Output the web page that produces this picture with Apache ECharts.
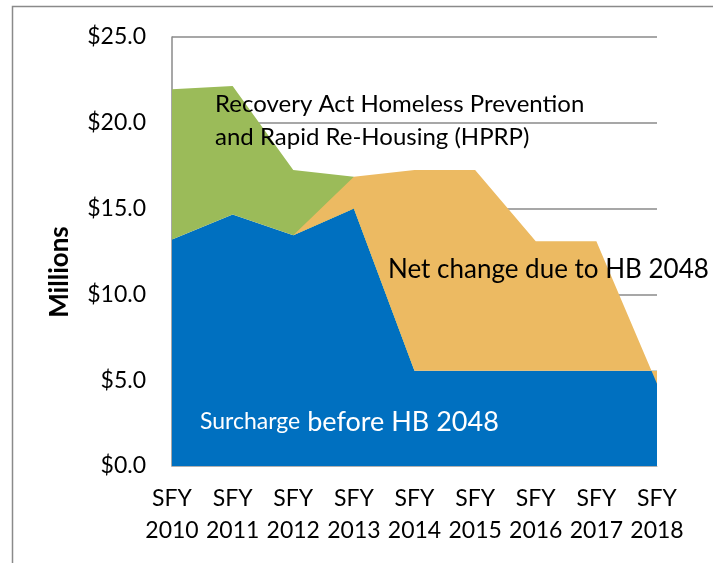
<!DOCTYPE html>
<html>
<head>
<meta charset="utf-8">
<script src="https://cdn.jsdelivr.net/npm/echarts@6/dist/echarts.min.js"></script>
<style>
html, body { margin: 0; padding: 0; background: #fff; }
#main { width: 713px; height: 563px; }
</style>
</head>
<body>
<div id="main"></div>
<script>
// values in $ millions
var categories = ['SFY 2010', 'SFY 2011', 'SFY 2012', 'SFY 2013', 'SFY 2014', 'SFY 2015', 'SFY 2016', 'SFY 2017', 'SFY 2018'];
var surcharge = [13.2, 14.65, 13.45, 15.0, 5.55, 5.55, 5.55, 5.55, 5.55];
var hprp = [8.75, 7.5, 3.8, 1.86, 0, null, null, null, null];
var netChange = [null, null, 0, 1.86, 11.7, 11.7, 7.55, 7.55, -0.75];

var FONT = 'Lato, "Noto Sans", sans-serif';
var chart = echarts.init(document.getElementById('main'));

var option = {
    animation: false,
    grid: { left: 172, right: 56, top: 37, bottom: 97 },
    xAxis: {
        type: 'category',
        boundaryGap: false,
        data: categories,
        axisLine: { lineStyle: { color: '#b0b0b0', width: 1 } },
        axisTick: { show: false },
        axisLabel: {
            interval: 0,
            margin: 17,
            color: '#000',
            fontFamily: FONT,
            fontSize: 23,
            lineHeight: 32,
            formatter: function (v) { return v.replace(' ', '\n'); }
        }
    },
    yAxis: {
        type: 'value',
        min: 0,
        max: 25,
        interval: 5,
        axisLine: { show: true, lineStyle: { color: '#8a8a8a', width: 1.5 } },
        axisTick: { show: false },
        splitLine: { lineStyle: { color: '#8a8a8a', width: 1.5 } },
        axisLabel: {
            margin: 26,
            color: '#000',
            fontFamily: FONT,
            fontSize: 23,
            formatter: function (v) { return '$' + v.toFixed(1); }
        }
    },
    series: [
        {
            name: 'Surcharge before HB 2048',
            type: 'line',
            stack: 'net',
            stackStrategy: 'all',
            data: surcharge,
            symbol: 'none',
            lineStyle: { opacity: 0 },
            areaStyle: { color: '#0070C0', opacity: 1 }
        },
        {
            // base so the HPRP band sits on top of the surcharge
            name: 'base',
            type: 'line',
            stack: 'hprp',
            data: surcharge,
            symbol: 'none',
            silent: true,
            lineStyle: { opacity: 0 }
        },
        {
            name: 'HPRP',
            type: 'line',
            stack: 'hprp',
            data: hprp,
            symbol: 'none',
            lineStyle: { opacity: 0 },
            areaStyle: { color: '#9BBB59', opacity: 1 }
        },
        {
            name: 'Net change due to HB 2048',
            type: 'line',
            stack: 'net',
            stackStrategy: 'all',
            data: netChange,
            symbol: 'none',
            lineStyle: { opacity: 0 },
            areaStyle: { color: '#ECBA62', opacity: 1 }
        }
    ],
    graphic: [
        {
            type: 'rect',
            z: 1,
            silent: true,
            shape: { x: 12.5, y: 6.5, width: 760, height: 620 },
            style: { fill: 'none', stroke: '#8a8a8a', lineWidth: 1.5 }
        },
        {
            type: 'text',
            z: 100,
            x: 60,
            y: 272,
            rotation: Math.PI / 2,
            style: {
                text: 'Millions',
                font: 'bold 26px ' + FONT,
                fill: '#000',
                align: 'center', verticalAlign: 'middle',
                textAlign: 'center', textVerticalAlign: 'middle'
            }
        },
        {
            type: 'text',
            z: 100,
            x: 215,
            y: 88,
            style: {
                text: 'Recovery Act Homeless Prevention\nand Rapid Re-Housing (HPRP)',
                font: '24px ' + FONT,
                lineHeight: 33,
                fill: '#000',
                align: 'left', verticalAlign: 'top',
                textAlign: 'left', textVerticalAlign: 'top'
            }
        },
        {
            type: 'text',
            z: 100,
            x: 388,
            y: 270,
            style: {
                text: 'Net change due to HB 2048',
                font: '26px ' + FONT,
                fill: '#000',
                align: 'left', verticalAlign: 'middle',
                textAlign: 'left', textVerticalAlign: 'middle'
            }
        },
        {
            type: 'text',
            z: 100,
            x: 200,
            y: 422,
            style: {
                text: '{a|Surcharge}{b| before HB 2048}',
                fill: '#fff',
                align: 'left', verticalAlign: 'middle',
                textAlign: 'left', textVerticalAlign: 'middle',
                rich: {
                    a: { fontFamily: FONT, fontSize: 23, fill: '#fff', color: '#fff' },
                    b: { fontFamily: FONT, fontSize: 27, fill: '#fff', color: '#fff' }
                }
            }
        }
    ]
};

chart.setOption(option);
</script>
</body>
</html>
